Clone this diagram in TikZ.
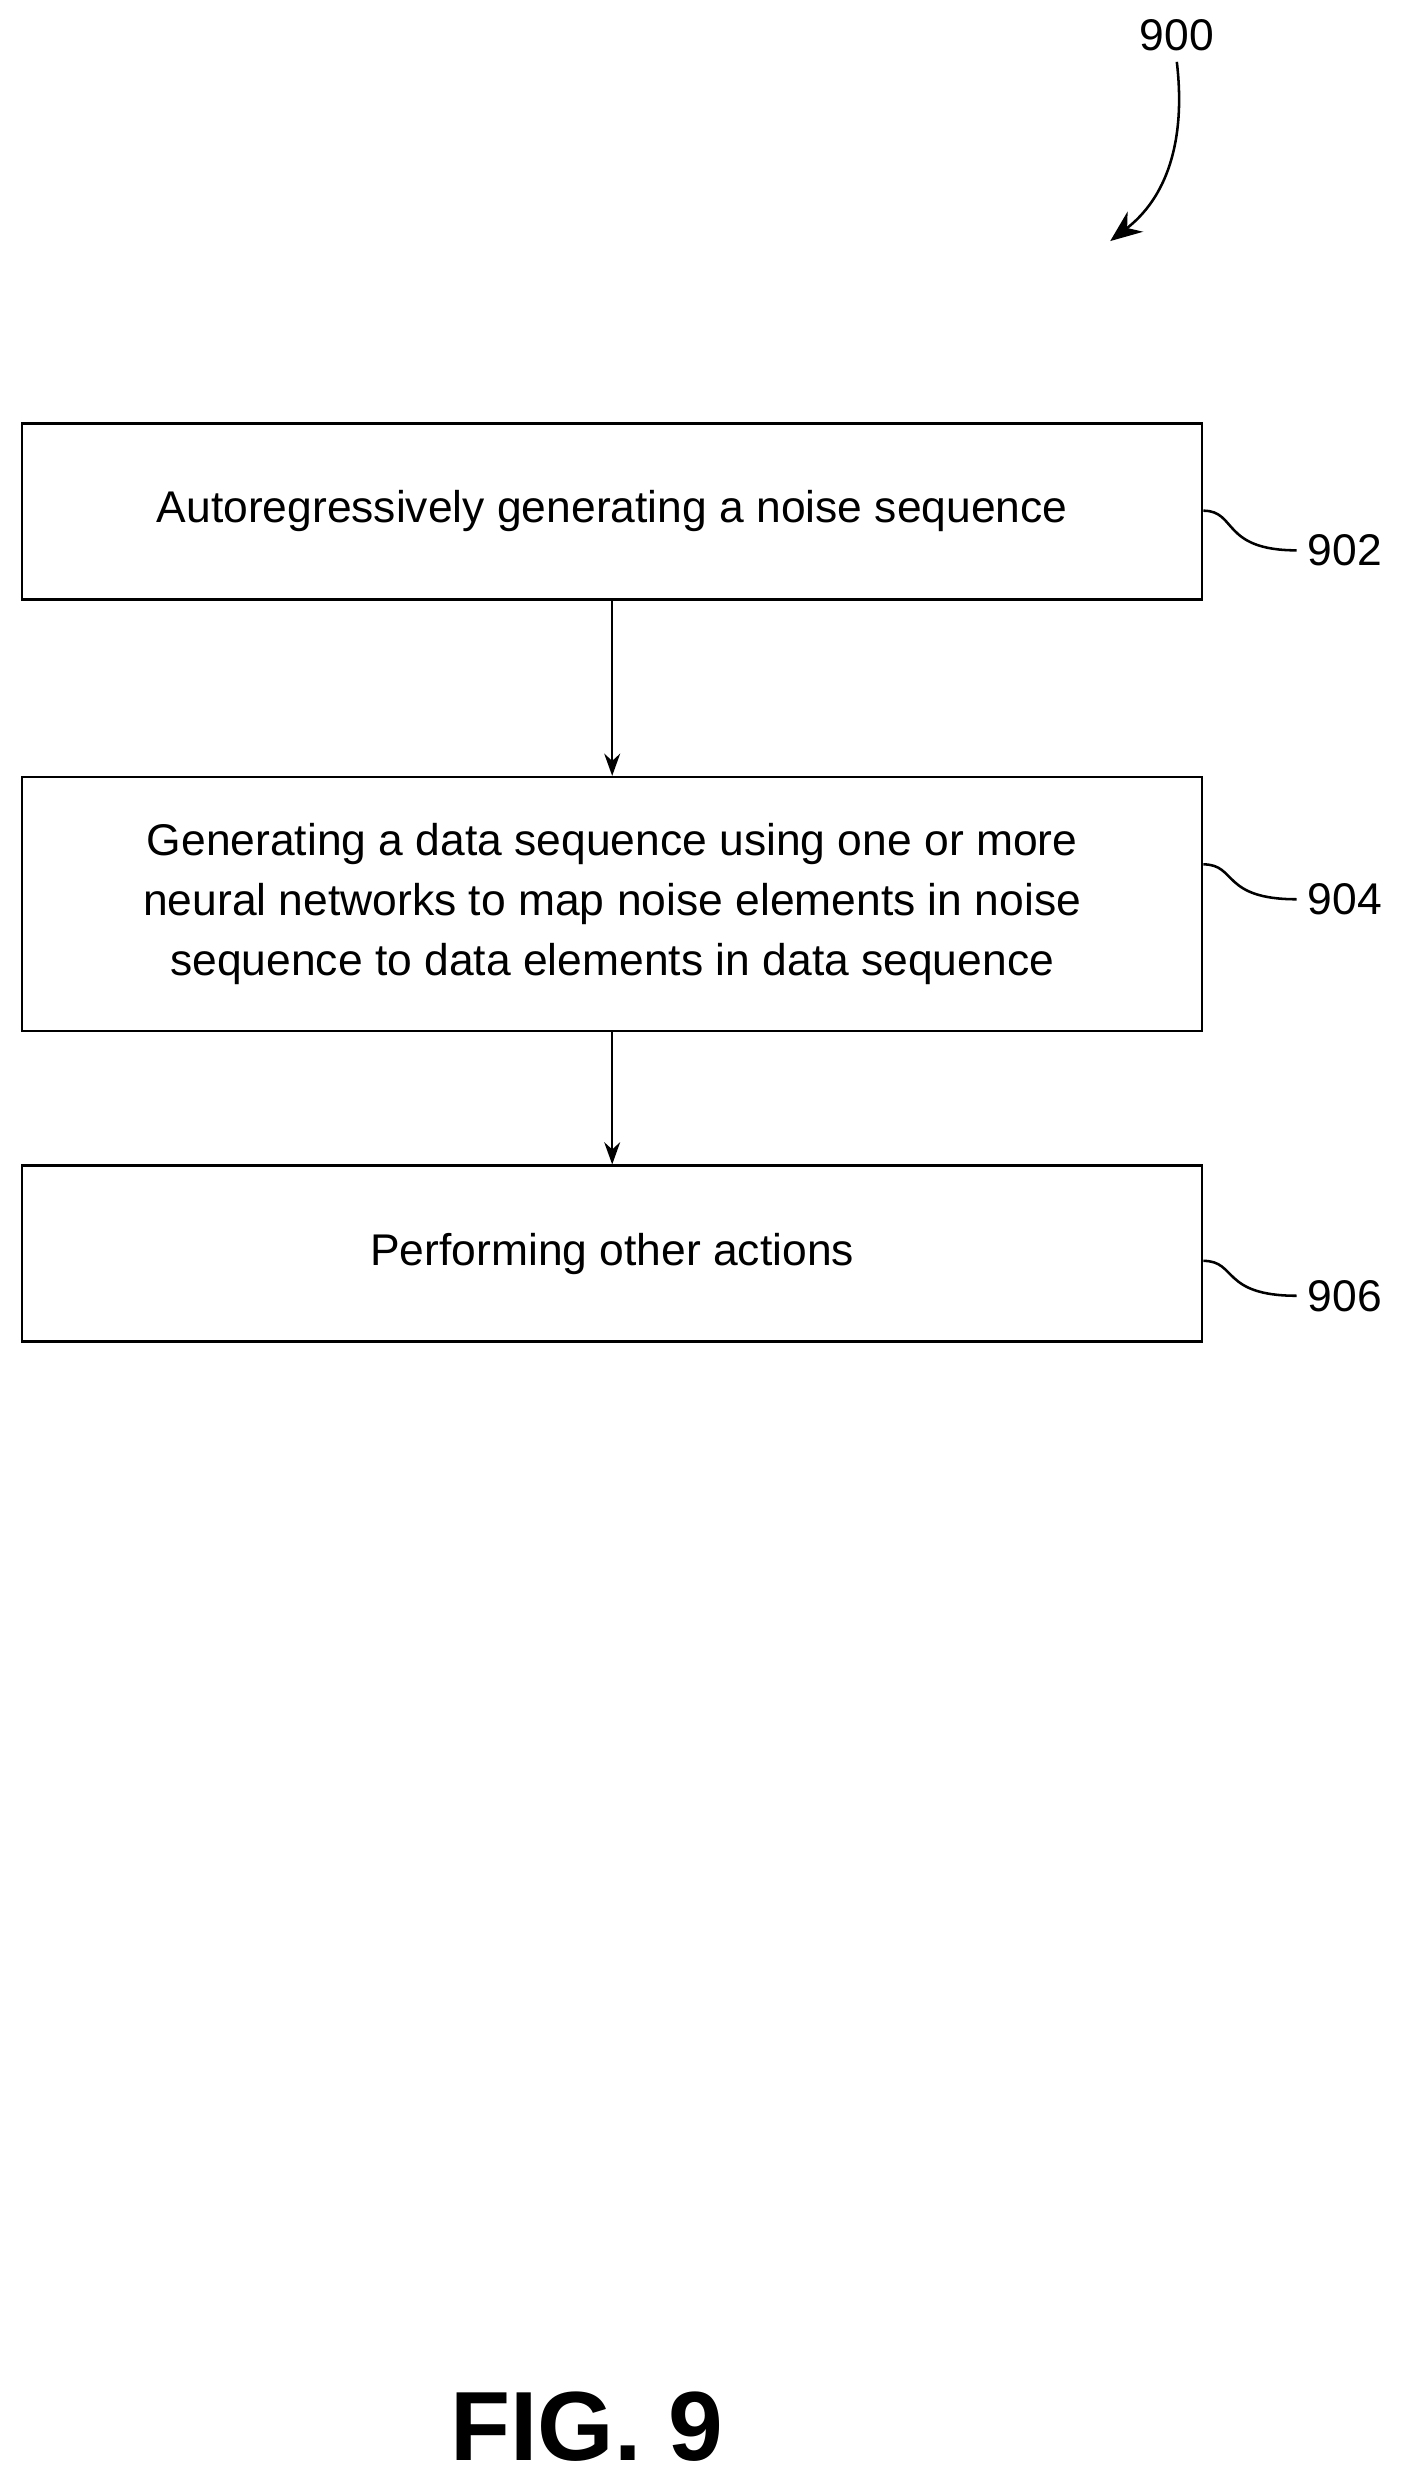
\documentclass[tikz,border=0pt]{standalone}
\usepackage{fontspec}
\setmainfont{Liberation Sans}
\usetikzlibrary{positioning,arrows.meta}
\tikzset{
  stepbox/.style={draw,thick,minimum width=372pt,inner sep=0pt,align=center,font=\fontsize{14}{19}\selectfont},
  flow/.style={thick,-{Stealth[length=7pt,width=5pt]}},
  ref/.style={font=\fontsize{14}{16}\selectfont}
}
\begin{document}
\begin{tikzpicture}[x=0.5pt,y=-0.5pt]
\useasboundingbox (0,0) rectangle (886,1570);
%-------->boxes<--------------
\node[stepbox,minimum height=55.5pt] (s902) at (386,322.5) {Autoregressively generating a noise sequence};
\node[stepbox,minimum height=80pt] (s904) at (386,570) {Generating a data sequence using one or more\\neural networks to map noise elements in noise\\sequence to data elements in data sequence};
\node[stepbox,minimum height=55.5pt] (s906) at (386,790.5) {Performing other actions};
%-------->arrows<--------------
\draw[flow] (s902) -- (s904);
\draw[flow] (s904) -- (s906);
%-------->reference numbers<--------------
\node[ref] (n902) at (848,347) {902};
\node[ref] (n904) at (848,567) {904};
\node[ref] (n906) at (848,817) {906};
\draw[thick] (s902.east |- 0,322) .. controls (780,322) and (770,347) .. (n902.west);
\draw[thick] (s904.east |- 0,545) .. controls (780,545) and (770,567) .. (n904.west);
\draw[thick] (s906.east |- 0,795) .. controls (780,795) and (770,817) .. (n906.west);
\node[ref] (n900) at (742,22) {900};
\draw[thick,-{Stealth[length=10pt,width=8pt]}] (n900.south) .. controls (748,90) and (735,125) .. (700,152);
%-------->caption<--------------
\node[font=\bfseries\fontsize{31}{34}\selectfont] (fig) at (370,1530) {FIG. 9};
\end{tikzpicture}
\end{document}
